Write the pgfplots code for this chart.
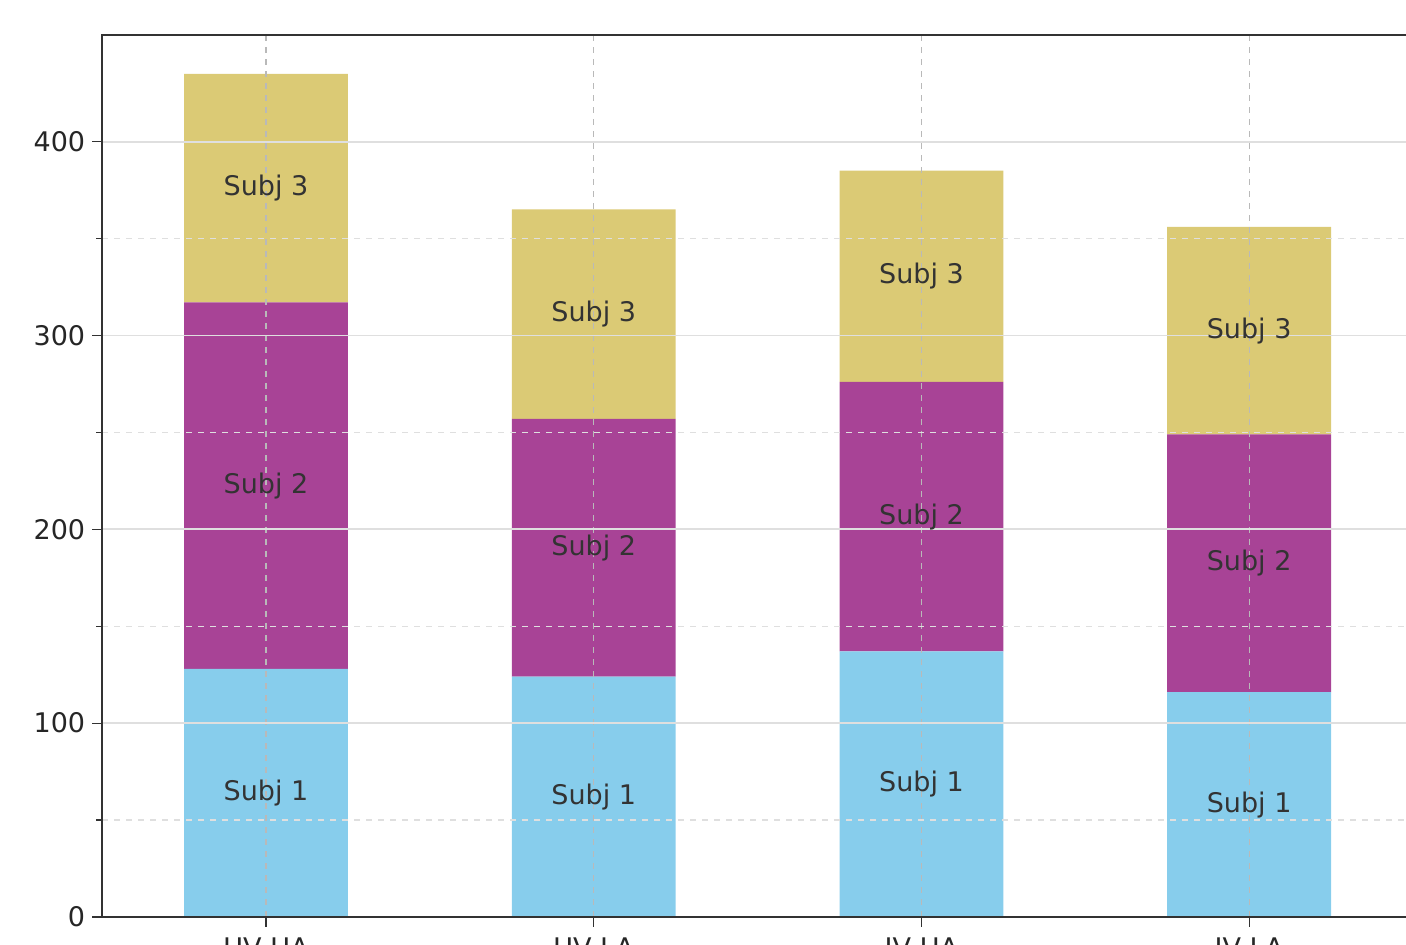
\documentclass[border=0pt]{standalone}
\usepackage{pgfplots}
\pgfplotsset{compat=1.18}
\usepackage{pgfplotstable}
\usepackage{fontspec}
\setmainfont{DejaVu Sans}

\definecolor{subjA}{RGB}{135,205,236}
\definecolor{subjB}{RGB}{168,67,150}
\definecolor{subjC}{RGB}{219,202,117}
\definecolor{spine}{RGB}{50,50,50}

% bar segments, bottom to top
\pgfplotstableread{
x s1 s2 s3
0 128 189 118
1 124 133 108
2 137 139 109
3 116 133 107
}\bars

% label positions (middle of each segment)
\pgfplotstableread{
x l1 l2 l3
0 64 222.5 376
1 62 190.5 311
2 68.5 206.5 330.5
3 58 182.5 302.5
}\labs

\pgfplotsset{
  common/.style={
    scale only axis,
    width=655.4pt, height=441pt,
    xmin=-0.5, xmax=3.5,
    ymin=0, ymax=455,
  },
}

\begin{document}
\begin{tikzpicture}
\useasboundingbox (-51.1pt,-14pt) rectangle (651.9pt,458.5pt);
\clip (-51.1pt,-14pt) rectangle (651.9pt,458.5pt);

\begin{axis}[
  common,
  ybar stacked,
  bar width=0.5,
  axis on top,
  xtick={0,1,2,3},
  xticklabels={UV HA, UV LA, IV HA, IV LA},
  ytick={0,100,200,300,400},
  minor y tick num=1,
  tick align=outside,
  major tick length=5pt,
  minor tick length=3pt,
  tick style={spine, line width=0.6pt},
  xtick pos=bottom, ytick pos=left,
  axis line style={spine, line width=1.2pt},
  /pgf/number format/assume math mode=true,
  tick label style={font=\fontsize{13.5}{16}\selectfont, text=black!85},
  xticklabel style={yshift=-2pt},
  xmajorgrids, ymajorgrids, yminorgrids,
  major x grid style={gray!55, dashed, line width=0.6pt},
  major y grid style={gray!25, line width=0.9pt},
  minor y grid style={gray!25, dashed, line width=0.6pt},
]
\addplot[fill=subjA, draw=none] table[x=x, y=s1] {\bars};
\addplot[fill=subjB, draw=none] table[x=x, y=s2] {\bars};
\addplot[fill=subjC, draw=none] table[x=x, y=s3] {\bars};
\end{axis}

\begin{axis}[
  common,
  hide axis,
  every node near coord/.append style={anchor=center, text=black!80,
    font=\fontsize{13.5}{16}\selectfont},
]
\addplot[only marks, mark=*, mark size=0pt, mark options={draw=none, fill=none},
  nodes near coords={Subj 1}] table[x=x, y=l1] {\labs};
\addplot[only marks, mark=*, mark size=0pt, mark options={draw=none, fill=none},
  nodes near coords={Subj 2}] table[x=x, y=l2] {\labs};
\addplot[only marks, mark=*, mark size=0pt, mark options={draw=none, fill=none},
  nodes near coords={Subj 3}] table[x=x, y=l3] {\labs};
\end{axis}
\end{tikzpicture}
\end{document}
